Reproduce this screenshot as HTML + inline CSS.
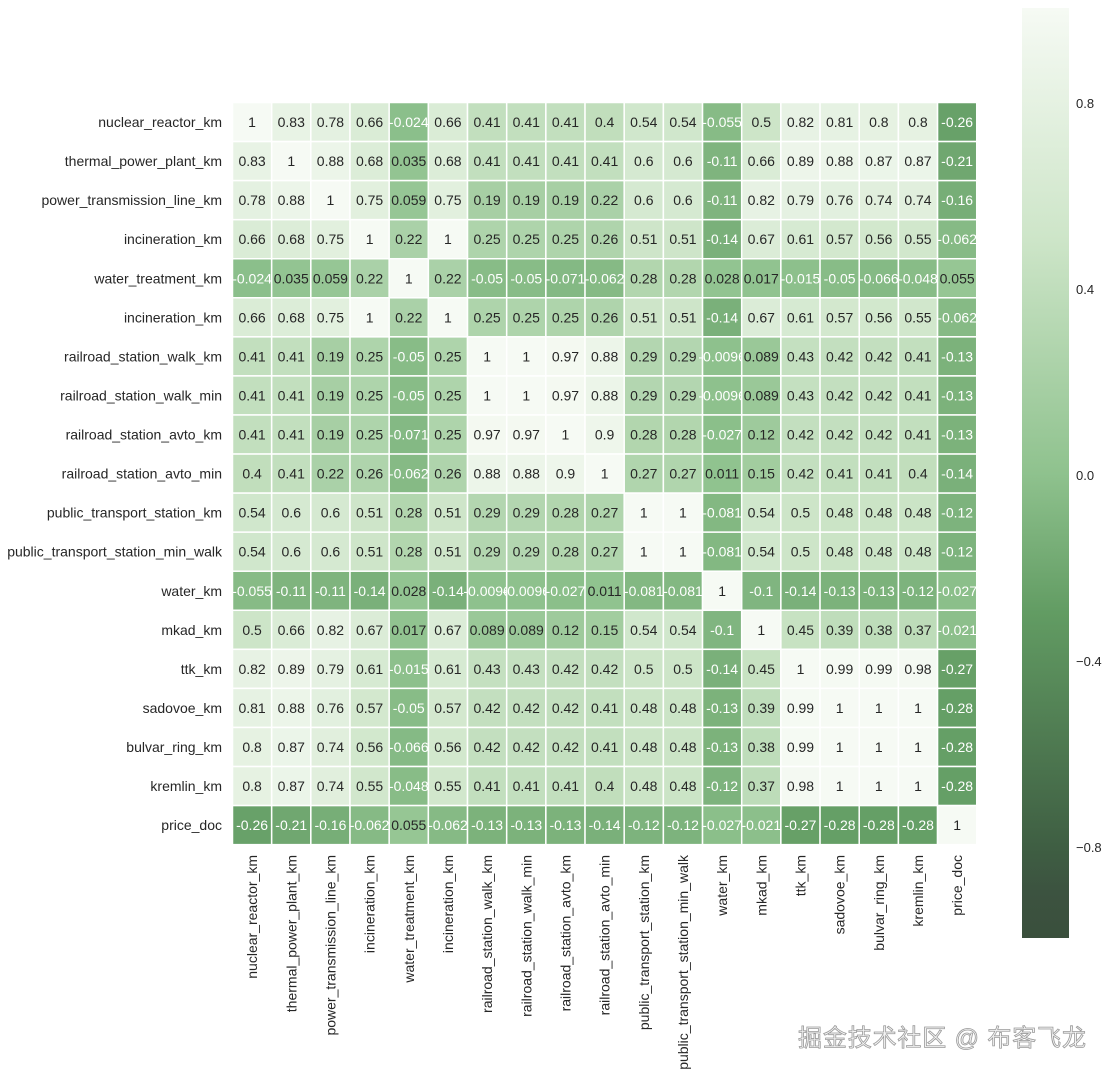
<!DOCTYPE html>
<html><head><meta charset="utf-8">
<style>
html,body{margin:0;padding:0;background:#fff;}
svg{display:block;font-family:"Liberation Sans",Arial,sans-serif;}
</style></head>
<body>
<svg id="s" width="1114" height="1078" xmlns="http://www.w3.org/2000/svg">
<defs>
<linearGradient id="cb" x1="0" y1="1" x2="0" y2="0">
<stop offset="0" stop-color="#3a4f3c"/>
<stop offset="0.05" stop-color="#3c5340"/>
<stop offset="0.1" stop-color="#3f5f43"/>
<stop offset="0.35" stop-color="#629c63"/>
<stop offset="0.5" stop-color="#8fc28e"/>
<stop offset="0.75" stop-color="#cde5c8"/>
<stop offset="1" stop-color="#f6faf4"/>
</linearGradient>
</defs>
<rect x="1022" y="8" width="47" height="930" fill="url(#cb)"/>
<g font-size="13" fill="#262626">
<text x="1076" y="108">0.8</text>
<text x="1076" y="294">0.4</text>
<text x="1076" y="480">0.0</text>
<text x="1076" y="666">−0.4</text>
<text x="1076" y="852">−0.8</text>
</g>
<text x="798" y="1046" font-size="24" textLength="288" fill="#f4f4f4" stroke="#9a9a9a" stroke-width="0.8" font-family="'Liberation Sans','Noto Sans CJK SC',sans-serif">掘金技术社区 @ 布客飞龙</text>
<g id="g"></g>
</svg>
<script>
var L=["nuclear_reactor_km","thermal_power_plant_km","power_transmission_line_km","incineration_km","water_treatment_km","incineration_km","railroad_station_walk_km","railroad_station_walk_min","railroad_station_avto_km","railroad_station_avto_min","public_transport_station_km","public_transport_station_min_walk","water_km","mkad_km","ttk_km","sadovoe_km","bulvar_ring_km","kremlin_km","price_doc"];
var R4=[0.66,0.68,0.75,1,0.22,1,0.25,0.25,0.25,0.26,0.51,0.51,-0.14,0.67,0.61,0.57,0.56,0.55,-0.062];
var R7=[0.41,0.41,0.19,0.25,-0.05,0.25,1,1,0.97,0.88,0.29,0.29,-0.0096,0.089,0.43,0.42,0.42,0.41,-0.13];
var R11=[0.54,0.6,0.6,0.51,0.28,0.51,0.29,0.29,0.28,0.27,1,1,-0.081,0.54,0.5,0.48,0.48,0.48,-0.12];
var M=[
[1,0.83,0.78,0.66,-0.024,0.66,0.41,0.41,0.41,0.4,0.54,0.54,-0.055,0.5,0.82,0.81,0.8,0.8,-0.26],
[0.83,1,0.88,0.68,0.035,0.68,0.41,0.41,0.41,0.41,0.6,0.6,-0.11,0.66,0.89,0.88,0.87,0.87,-0.21],
[0.78,0.88,1,0.75,0.059,0.75,0.19,0.19,0.19,0.22,0.6,0.6,-0.11,0.82,0.79,0.76,0.74,0.74,-0.16],
R4,
[-0.024,0.035,0.059,0.22,1,0.22,-0.05,-0.05,-0.071,-0.062,0.28,0.28,0.028,0.017,-0.015,-0.05,-0.066,-0.048,0.055],
R4,R7,R7,
[0.41,0.41,0.19,0.25,-0.071,0.25,0.97,0.97,1,0.9,0.28,0.28,-0.027,0.12,0.42,0.42,0.42,0.41,-0.13],
[0.4,0.41,0.22,0.26,-0.062,0.26,0.88,0.88,0.9,1,0.27,0.27,0.011,0.15,0.42,0.41,0.41,0.4,-0.14],
R11,R11,
[-0.055,-0.11,-0.11,-0.14,0.028,-0.14,-0.0096,-0.0096,-0.027,0.011,-0.081,-0.081,1,-0.1,-0.14,-0.13,-0.13,-0.12,-0.027],
[0.5,0.66,0.82,0.67,0.017,0.67,0.089,0.089,0.12,0.15,0.54,0.54,-0.1,1,0.45,0.39,0.38,0.37,-0.021],
[0.82,0.89,0.79,0.61,-0.015,0.61,0.43,0.43,0.42,0.42,0.5,0.5,-0.14,0.45,1,0.99,0.99,0.98,-0.27],
[0.81,0.88,0.76,0.57,-0.05,0.57,0.42,0.42,0.42,0.41,0.48,0.48,-0.13,0.39,0.99,1,1,1,-0.28],
[0.8,0.87,0.74,0.56,-0.066,0.56,0.42,0.42,0.42,0.41,0.48,0.48,-0.13,0.38,0.99,1,1,1,-0.28],
[0.8,0.87,0.74,0.55,-0.048,0.55,0.41,0.41,0.41,0.4,0.48,0.48,-0.12,0.37,0.98,1,1,1,-0.28],
[-0.26,-0.21,-0.16,-0.062,0.055,-0.062,-0.13,-0.13,-0.13,-0.14,-0.12,-0.12,-0.027,-0.021,-0.27,-0.28,-0.28,-0.28,1]];
var S=[[-1,[58,79,60]],[-0.9,[60,83,64]],[-0.8,[63,95,67]],[-0.3,[98,156,99]],[0,[143,194,142]],[0.5,[205,229,200]],[1,[246,250,244]]];
function col(v){for(var i=0;i<S.length-1;i++){if(v<=S[i+1][0]){var t=(v-S[i][0])/(S[i+1][0]-S[i][0]);var a=S[i][1],b=S[i+1][1];return "rgb("+[0,1,2].map(function(k){return Math.round(a[k]+(b[k]-a[k])*t)}).join(",")+")";}}return "rgb(246,250,244)";}
var x0=232.5,y0=102.5,cw=39.17,ch=39.06,h="";
for(var r=0;r<19;r++){for(var c=0;c<19;c++){var v=M[r][c];
h+='<rect x="'+(x0+c*cw)+'" y="'+(y0+r*ch)+'" width="'+cw+'" height="'+ch+'" fill="'+col(v)+'" stroke="#fff" stroke-width="1.5"/>';
h+='<text x="'+(x0+c*cw+cw/2)+'" y="'+(y0+r*ch+ch/2+5)+'" text-anchor="middle" font-size="14" fill="'+(v<0?'#fff':'#262626')+'">'+String(v)+'</text>';}
h+='<text x="222" y="'+(y0+r*ch+ch/2+5)+'" text-anchor="end" font-size="14" fill="#262626">'+L[r]+'</text>';
var cx=x0+r*cw+cw/2+5;
h+='<text transform="translate('+cx+',855) rotate(-90)" text-anchor="end" font-size="14" fill="#262626">'+L[r]+'</text>';}
document.getElementById("g").innerHTML=h;
</script>
</body></html>
